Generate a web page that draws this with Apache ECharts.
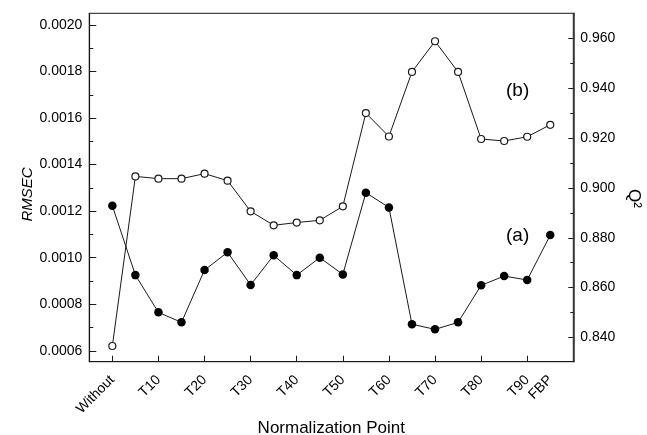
<!DOCTYPE html>
<html>
<head>
<meta charset="utf-8">
<title>RMSEC and Q2 by normalization point</title>
<script src="https://cdn.jsdelivr.net/npm/echarts@6/dist/echarts.min.js"></script>
<style>
  html, body { margin: 0; padding: 0; background: #fff; }
  #chart { width: 647px; height: 435px; }
</style>
</head>
<body>
<div id="chart"></div>
<script>
// Normalization points along the x axis
const categories = ['Without', 'T5', 'T10', 'T15', 'T20', 'T25', 'T30', 'T35', 'T40', 'T45',
  'T50', 'T55', 'T60', 'T65', 'T70', 'T75', 'T80', 'T85', 'T90', 'FBP'];

// (a) RMSEC, filled markers, left axis
const rmsec = [0.001223, 0.000925, 0.000765, 0.000722, 0.000947, 0.001023, 0.000883, 0.001010,
  0.000925, 0.001000, 0.000928, 0.001279, 0.001216, 0.000714, 0.000692, 0.000722, 0.000881,
  0.000921, 0.000904, 0.001097];

// (b) Q², open markers, right axis
const q2 = [0.8366, 0.9046, 0.9037, 0.9037, 0.9057, 0.9029, 0.8906, 0.8850, 0.8861, 0.8870,
  0.8926, 0.9300, 0.9206, 0.9465, 0.9588, 0.9465, 0.9196, 0.9188, 0.9205, 0.9253];

// Axis tick values
const rmsecTicks = [0.0006, 0.0008, 0.0010, 0.0012, 0.0014, 0.0016, 0.0018, 0.0020];
const rmsecMinor = [0.0007, 0.0009, 0.0011, 0.0013, 0.0015, 0.0017, 0.0019];
const q2Ticks = [0.840, 0.860, 0.880, 0.900, 0.920, 0.940, 0.960];
const q2Minor = [0.850, 0.870, 0.890, 0.910, 0.930, 0.950];

// Empty slots on both ends give the half-step padding around the first and last points
const xData = [''].concat(categories, ['']);
const pad = arr => [null].concat(arr, [null]);

const FONT = 'Liberation Sans, Arial, Helvetica, sans-serif';
const INK = '#1a1a1a';

const tickIdx = i => i >= 1 && i <= 19 && (i - 1) % 2 === 0;
const labelIdx = i => tickIdx(i) || i === 20;

const chart = echarts.init(document.getElementById('chart'), null, { renderer: 'canvas' });

const leftMin = 0.000553, leftMax = 0.00205;
const rightMin = 0.8303, rightMax = 0.9700;

chart.setOption({
  animation: false,
  backgroundColor: '#fff',
  grid: {
    left: 89.3, right: 73.7, top: 13.3, bottom: 73.3,
    outerBoundsMode: 'none',
    containLabel: false,
    show: true, borderColor: INK, borderWidth: 1, backgroundColor: 'transparent'
  },
  xAxis: {
    type: 'category',
    data: xData,
    boundaryGap: false,
    name: 'Normalization Point',
    nameLocation: 'middle',
    nameGap: 58,
    nameMoveOverlap: false,
    nameTextStyle: { fontFamily: FONT, fontSize: 17, color: '#000' },
    axisLine: { lineStyle: { color: INK, width: 1.2 } },
    axisTick: { inside: true, length: 6, interval: (i) => tickIdx(i), lineStyle: { color: INK } },
    axisLabel: {
      interval: (i) => labelIdx(i),
      rotate: 45,
      margin: 16,
      fontFamily: FONT, fontSize: 14, color: '#000'
    },
    splitLine: { show: false }
  },
  yAxis: [
    {
      type: 'value', position: 'left', min: leftMin, max: leftMax,
      name: 'RMSEC', nameLocation: 'middle', nameGap: 54, nameRotate: 90,
      nameMoveOverlap: false,
      nameTextStyle: { fontFamily: FONT, fontSize: 15, fontStyle: 'italic', color: '#000',
        padding: [0, 14, 0, 0] },
      axisLine: { show: true, lineStyle: { color: INK, width: 1.2 } },
      axisTick: { show: true, inside: true, length: 7, customValues: rmsecTicks, lineStyle: { color: INK } },
      axisLabel: { customValues: rmsecTicks, margin: 7, formatter: v => v.toFixed(4),
        fontFamily: FONT, fontSize: 14, color: '#000' },
      splitLine: { show: false }
    },
    {
      type: 'value', position: 'right', min: rightMin, max: rightMax,
      name: 'Q²', nameLocation: 'middle', nameGap: 52, nameRotate: -90,
      nameMoveOverlap: false,
      nameTextStyle: { fontFamily: FONT, fontSize: 17, color: '#000', padding: [0, 0, 0, 22] },
      axisLine: { show: true, lineStyle: { color: '#333', width: 1.6 } },
      axisTick: { show: true, inside: true, length: 5, customValues: q2Ticks, lineStyle: { color: INK } },
      axisLabel: { customValues: q2Ticks, margin: 7, formatter: v => v.toFixed(3),
        fontFamily: FONT, fontSize: 14, color: '#000' },
      splitLine: { show: false }
    },
    {
      // minor ticks on the left axis
      type: 'value', position: 'left', min: leftMin, max: leftMax,
      axisLine: { show: false },
      axisTick: { show: true, inside: true, length: 4, customValues: rmsecMinor, lineStyle: { color: INK } },
      axisLabel: { show: false },
      splitLine: { show: false }
    },
    {
      // minor ticks on the right axis
      type: 'value', position: 'right', min: rightMin, max: rightMax,
      axisLine: { show: false },
      axisTick: { show: true, inside: true, length: 3, customValues: q2Minor, lineStyle: { color: INK } },
      axisLabel: { show: false },
      splitLine: { show: false }
    }
  ],
  series: [
    {
      name: 'Q2',
      type: 'line',
      yAxisIndex: 1,
      data: pad(q2),
      symbol: 'circle',
      symbolSize: 7,
      showAllSymbol: true,
      lineStyle: { color: INK, width: 1 },
      itemStyle: { color: '#fff', borderColor: INK, borderWidth: 1.2 },
      z: 2
    },
    {
      name: 'RMSEC',
      type: 'line',
      yAxisIndex: 0,
      data: pad(rmsec),
      symbol: 'circle',
      symbolSize: 8.5,
      showAllSymbol: true,
      lineStyle: { color: INK, width: 1 },
      itemStyle: { color: '#000', borderColor: '#000', borderWidth: 0 },
      z: 3
    }
  ],
  graphic: [
    { type: 'text', left: 506, top: 81, style: { text: '(b)', fontFamily: FONT, fontSize: 19, fill: '#000' } },
    { type: 'text', left: 506, top: 226, style: { text: '(a)', fontFamily: FONT, fontSize: 19, fill: '#000' } }
  ]
});
</script>
</body>
</html>
